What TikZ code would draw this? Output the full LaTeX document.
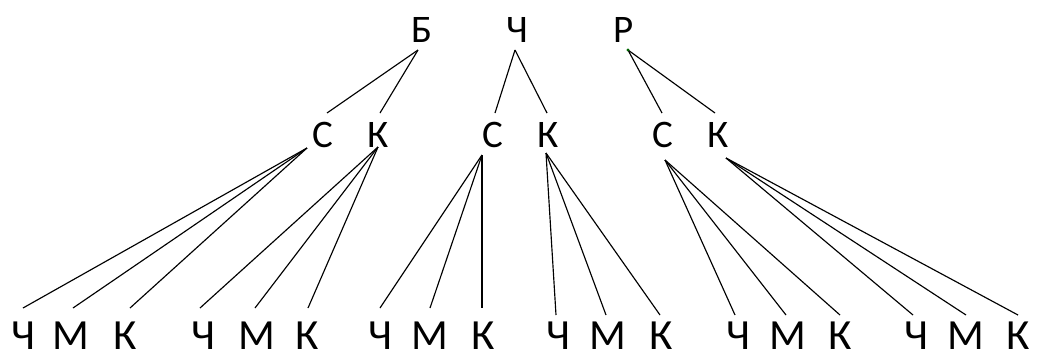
\documentclass[tikz,border=0pt]{standalone}
\usepackage{fontspec}
\setmainfont{Carlito}
\begin{document}
\begin{tikzpicture}[x=1pt,y=-1pt,
  lbl/.style={inner sep=0pt,font=\fontsize{39}{40}\selectfont},
  leaf/.style={inner sep=0pt,font=\fontsize{43}{44}\selectfont},
  edge/.style={draw=black,line width=1.15pt}]
\useasboundingbox (0,0) rectangle (1038,360);
% top row
\node[lbl] (B)  at (422,30) {Б};
\node[lbl] (Ch) at (517,30) {Ч};
\node[lbl] (R)  at (624,30) {Р};
% middle row
\node[lbl] (S1) at (323,135) {С};
\node[lbl] (K1) at (378,135) {К};
\node[lbl] (S2) at (493,135) {С};
\node[lbl] (K2) at (548,135) {К};
\node[lbl] (S3) at (663,135) {С};
\node[lbl] (K3) at (718,135) {К};
% bottom row
\node[leaf] (a1) at (23,336) {Ч};
\node[leaf] (a2) at (71,336) {М};
\node[leaf] (a3) at (125,336) {К};
\node[leaf] (b1) at (203,336) {Ч};
\node[leaf] (b2) at (257,336) {М};
\node[leaf] (b3) at (307,336) {К};
\node[leaf] (c1) at (380,336) {Ч};
\node[leaf] (c2) at (430,336) {М};
\node[leaf] (c3) at (483,336) {К};
\node[leaf] (d1) at (558,336) {Ч};
\node[leaf] (d2) at (608,336) {М};
\node[leaf] (d3) at (661,336) {К};
\node[leaf] (e1) at (738,336) {Ч};
\node[leaf] (e2) at (788,336) {М};
\node[leaf] (e3) at (840,336) {К};
\node[leaf] (f1) at (916,336) {Ч};
\node[leaf] (f2) at (966,336) {М};
\node[leaf] (f3) at (1018,336) {К};
% top to middle
\draw[edge] ([shift={(-4,20)}]B.center) -- ([shift={(4,-22)}]S1.center);
\draw[edge] ([shift={(-4,20)}]B.center) -- ([shift={(2,-22)}]K1.center);
\draw[edge] ([shift={(-2,20)}]Ch.center) -- ([shift={(2,-22)}]S2.center);
\draw[edge] ([shift={(-2,20)}]Ch.center) -- ([shift={(-1,-22)}]K2.center);
\draw[edge] ([shift={(4,20)}]R.center) -- ([shift={(-1,-22)}]S3.center);
\draw[edge] ([shift={(4,20)}]R.center) -- ([shift={(-3,-22)}]K3.center);
\fill[green!40!black] ([shift={(4,20)}]R.center) circle (1.6pt);
% middle to bottom, left group
\draw[edge] ([shift={(-16,13)}]S1.center) -- ([shift={(0,-28)}]a1.center);
\draw[edge] ([shift={(-16,13)}]S1.center) -- ([shift={(2,-28)}]a2.center);
\draw[edge] ([shift={(-16,13)}]S1.center) -- ([shift={(5,-28)}]a3.center);
\draw[edge] ([shift={(0,12)}]K1.center) -- ([shift={(-3,-28)}]b1.center);
\draw[edge] ([shift={(0,12)}]K1.center) -- ([shift={(-2,-28)}]b2.center);
\draw[edge] ([shift={(0,12)}]K1.center) -- ([shift={(1,-28)}]b3.center);
% middle group
\draw[edge] ([shift={(-11,20)}]S2.center) -- ([shift={(0,-28)}]c1.center);
\draw[edge] ([shift={(-11,20)}]S2.center) -- ([shift={(0,-28)}]c2.center);
\draw[edge] ([shift={(-11,20)}]S2.center) -- ([shift={(-1,-28)}]c3.center);
\draw[edge] ([shift={(-2,18)}]K2.center) -- ([shift={(-2,-21)}]d1.center);
\draw[edge] ([shift={(-2,18)}]K2.center) -- ([shift={(-2,-21)}]d2.center);
\draw[edge] ([shift={(-2,18)}]K2.center) -- ([shift={(-1,-21)}]d3.center);
% right group
\draw[edge] ([shift={(2,25)}]S3.center) -- ([shift={(-3,-21)}]e1.center);
\draw[edge] ([shift={(2,25)}]S3.center) -- ([shift={(-2,-21)}]e2.center);
\draw[edge] ([shift={(2,25)}]S3.center) -- ([shift={(0,-21)}]e3.center);
\draw[edge] ([shift={(8,23)}]K3.center) -- ([shift={(-3,-21)}]f1.center);
\draw[edge] ([shift={(8,23)}]K3.center) -- ([shift={(0,-21)}]f2.center);
\draw[edge] ([shift={(8,23)}]K3.center) -- ([shift={(0,-21)}]f3.center);
\end{tikzpicture}
\end{document}
